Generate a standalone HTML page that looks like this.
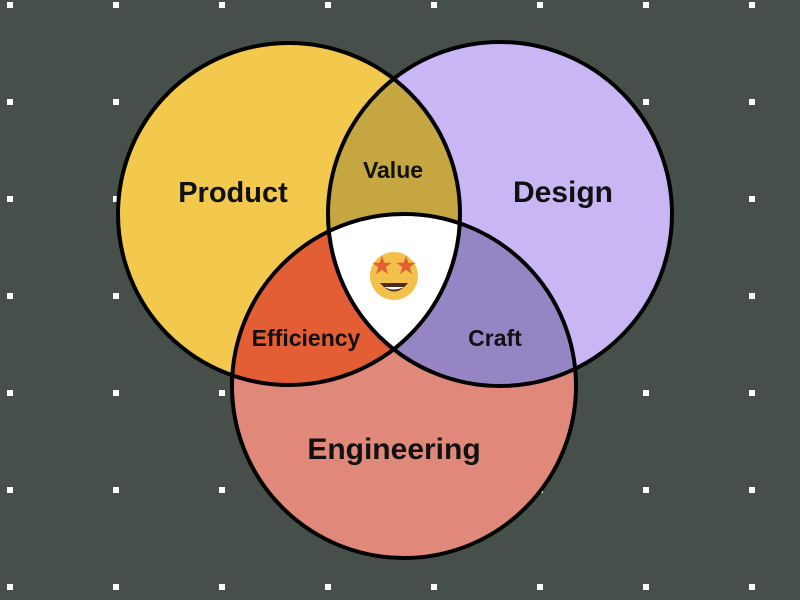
<!DOCTYPE html>
<html><head><meta charset="utf-8"><style>
html,body{margin:0;padding:0;background:#474f4b;}
svg{display:block}
text{font-family:"Liberation Sans",sans-serif;font-weight:bold;fill:#111;text-anchor:middle}
</style></head><body>
<svg width="800" height="600" viewBox="0 0 800 600" xmlns="http://www.w3.org/2000/svg">
<defs>
<pattern id="dots" x="0" y="0" width="106" height="97" patternUnits="userSpaceOnUse">
<rect x="7" y="2" width="6" height="6" fill="#fff"/>
</pattern>
<clipPath id="cP"><circle cx="289" cy="214" r="171"/></clipPath>
<clipPath id="cD"><circle cx="500" cy="214" r="172"/></clipPath>
<clipPath id="cE"><circle cx="404" cy="386" r="172"/></clipPath>
</defs>
<rect width="800" height="600" fill="#474f4b"/>
<rect width="800" height="600" fill="url(#dots)"/>
<circle cx="289" cy="214" r="171" fill="#f3c94d"/>
<circle cx="500" cy="214" r="172" fill="#c8b6f5"/>
<circle cx="404" cy="386" r="172" fill="#e0897a"/>
<g clip-path="url(#cP)"><circle cx="500" cy="214" r="172" fill="#c6a640"/><circle cx="404" cy="386" r="172" fill="#e35d35"/></g>
<g clip-path="url(#cD)"><circle cx="404" cy="386" r="172" fill="#9685c4"/></g>
<g clip-path="url(#cP)"><g clip-path="url(#cD)"><circle cx="404" cy="386" r="172" fill="#fff"/></g></g>
<g fill="none" stroke="#000" stroke-width="4">
<circle cx="289" cy="214" r="171"/>
<circle cx="500" cy="214" r="172"/>
<circle cx="404" cy="386" r="172"/>
</g>
<text x="233" y="202" font-size="29">Product</text>
<text x="563" y="202" font-size="30">Design</text>
<text x="394" y="459" font-size="30">Engineering</text>
<text x="393" y="178" font-size="23">Value</text>
<text x="306" y="346" font-size="23">Efficiency</text>
<text x="495" y="346" font-size="23">Craft</text>
<circle cx="394" cy="276" r="24" fill="#f2c14b"/>
<path d="M380 283 Q394 300 408 283 Z" fill="#4a2a1a"/>
<path d="M384 287 Q394 292 404 287" fill="#fff"/>
<text x="382" y="273" font-size="22" style="fill:#e35d35">★</text>
<text x="406" y="273" font-size="22" style="fill:#e35d35">★</text>
</svg>
</body></html>
